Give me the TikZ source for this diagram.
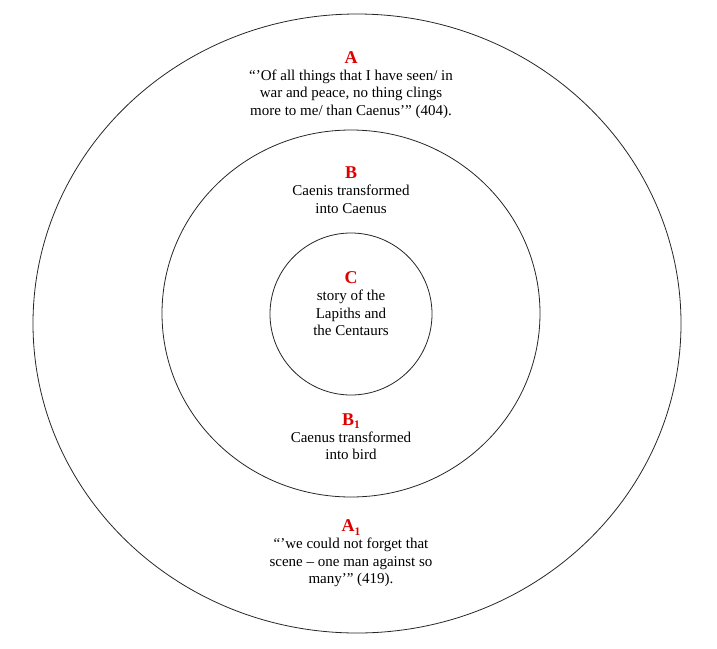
\documentclass[tikz,border=0pt]{standalone}
\usepackage{fontspec}
\setmainfont{Liberation Serif}
\usepackage{xcolor}
\definecolor{rojoLetra}{RGB}{222,0,0}
\usetikzlibrary{positioning}

\begin{document}
\begin{tikzpicture}[
                x=1pt, y=-1pt,
                anillo/.style={draw=black!85, line width=0.8pt},
                letra/.style={inner sep=0pt, text depth=0pt, text=rojoLetra, font=\fontsize{18}{18}\selectfont\bfseries},
                cita/.style={inner sep=0pt, align=center, font=\fontsize{15}{17.5}\selectfont}
            ]
            \useasboundingbox (0,0) rectangle (717,648);

            % Rings: outer A, middle B, inner C
            \coordinate (cA) at (357,323.5);
            \coordinate (cB) at (351,313.5);
            \coordinate (cC) at (351,314);
            \draw[anillo] (cA) ellipse [x radius=324pt, y radius=309.5pt];
            \draw[anillo] (cB) ellipse [x radius=189pt, y radius=183.5pt];
            \draw[anillo] (cC) circle [radius=81pt];

            % Outer ring, top: A
            \node[letra, anchor=base] (A) at (351,63) {A};
            \node[cita, below=6.3pt of A] (tA) {“’Of all things that I have seen/ in\\ war and peace, no thing clings\\ more to me/ than Caenus’” (404).};

            % Middle ring, top: B
            \node[letra, anchor=base] (B) at (351,178.3) {B};
            \node[cita, below=6.3pt of B] (tB) {Caenis transformed\\ into Caenus};

            % Centre: C
            \node[letra, anchor=base] (C) at (351,283.3) {C};
            \node[cita, below=6.3pt of C] (tC) {story of the\\ Lapiths and\\ the Centaurs};

            % Middle ring, bottom: B1
            \node[letra, anchor=base] (B1) at (351,425) {B\raisebox{-3.5pt}{\fontsize{11.5}{11.5}\selectfont\bfseries 1}};
            \node[cita, below=6.3pt of B1] (tB1) {Caenus transformed\\ into bird};

            % Outer ring, bottom: A1
            \node[letra, anchor=base] (A1) at (351,531.7) {A\raisebox{-3.5pt}{\fontsize{11.5}{11.5}\selectfont\bfseries 1}};
            \node[cita, below=6.3pt of A1] (tA1) {“’we could not forget that\\ scene – one man against so\\ many’” (419).};
        \end{tikzpicture}
\end{document}
